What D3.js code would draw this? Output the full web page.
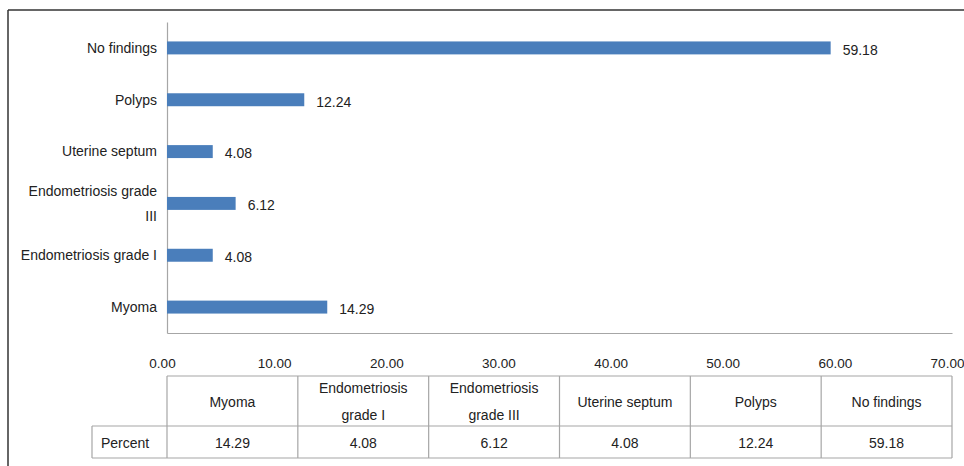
<!DOCTYPE html>
<html>
<head>
<meta charset="utf-8">
<script src="https://cdn.jsdelivr.net/npm/d3@7"></script>
<style>
  body { margin: 0; background: #fff; }
  text { font-family: "Liberation Sans", Arial, sans-serif; fill: #222; }
</style>
</head>
<body>
<svg id="chart" width="964" height="466"></svg>
<script>
var categories = ["Myoma", "Endometriosis grade I", "Endometriosis grade III", "Uterine septum", "Polyps", "No findings"];
var percent = [14.29, 4.08, 6.12, 4.08, 12.24, 59.18];
var xTicks = [0, 10, 20, 30, 40, 50, 60, 70];
var rowLabel = "Percent";

var data = categories.map(function(c, i){ return {cat: c, val: percent[i]}; });

var svg = d3.select("#chart");
var pLeft = 167, pRight = 952, pTop = 22, pBottom = 333;

// outer frame (left + top only)
svg.append("line")
  .attr("x1", 8).attr("y1", 10).attr("x2", 8).attr("y2", 466)
  .attr("stroke", "#333").attr("stroke-width", 1.5);
svg.append("line")
  .attr("x1", 8).attr("y1", 10).attr("x2", 964).attr("y2", 10)
  .attr("stroke", "#333").attr("stroke-width", 1.5);

var x = d3.scaleLinear().domain([0, 70]).range([pLeft, pRight]);
var y = d3.scaleBand().domain(categories.slice().reverse())
  .range([pTop, pBottom]).paddingInner(0.75).paddingOuter(0.375);

// wrap text into tspans by pixel width
function wrap(textSel, width, lineH) {
  textSel.each(function(){
    var t = d3.select(this);
    var words = t.text().split(" ");
    var xx = t.attr("x") || 0;
    t.text(null);
    var lines = [], line = [];
    var probe = t.append("tspan");
    words.forEach(function(w){
      line.push(w);
      probe.text(line.join(" "));
      if (probe.node().getComputedTextLength() > width && line.length > 1) {
        line.pop();
        lines.push(line.join(" "));
        line = [w];
      }
    });
    lines.push(line.join(" "));
    probe.remove();
    var y0 = t.attr("y") || 0;
    var dy0 = parseFloat(t.attr("dy") || 0);
    lines.forEach(function(l, i){
      t.append("tspan").attr("x", xx)
        .attr("y", y0)
        .attr("dy", (dy0 * 14 + (i - (lines.length - 1) / 2) * lineH) + "px")
        .text(l);
    });
    t.attr("dy", null);
  });
}

// left axis
var yAxis = svg.append("g")
  .attr("transform", "translate(" + pLeft + ",0)")
  .call(d3.axisLeft(y).tickSize(0).tickPadding(10));
yAxis.select(".domain").attr("stroke", "#a6a6a6").attr("stroke-width", 1.2);
yAxis.selectAll("text")
  .attr("font-size", "14px").attr("fill", "#222")
  .style("font-family", "'Liberation Sans', Arial, sans-serif")
  .attr("dy", "0.35")
  .call(wrap, 142, 25);

// bottom axis
var xAxis = svg.append("g")
  .attr("transform", "translate(0," + pBottom + ")")
  .call(d3.axisBottom(x).tickValues(xTicks).tickFormat(d3.format(".2f")).tickSize(0).tickPadding(25));
xAxis.select(".domain").attr("stroke", "#a6a6a6").attr("stroke-width", 1.2);
xAxis.selectAll("text")
  .attr("font-size", "13.5px").attr("fill", "#222").attr("x", -5)
  .style("font-family", "'Liberation Sans', Arial, sans-serif");

// bars
svg.selectAll("rect.bar").data(data).enter().append("rect")
  .attr("class", "bar")
  .attr("x", x(0))
  .attr("y", function(d){ return y(d.cat); })
  .attr("width", function(d){ return x(d.val) - x(0); })
  .attr("height", y.bandwidth())
  .attr("fill", "#4a7ebb");

// value labels
svg.selectAll("text.val").data(data).enter().append("text")
  .attr("class", "val")
  .attr("x", function(d){ return x(d.val) + 12; })
  .attr("y", function(d){ return y(d.cat) + y.bandwidth() / 2 + 2; })
  .attr("dy", "0.35em")
  .attr("font-size", "14px")
  .text(function(d){ return d.val.toFixed(2); });

// data table
var col = d3.scaleBand().domain(categories).range([pLeft, pRight]);
var tTop = 376, tMid = 426, tBot = 458, tLeft = 92;
var tbl = svg.append("g").attr("stroke", "#a6a6a6").attr("stroke-width", 1.2);
tbl.append("line").attr("x1", pLeft).attr("x2", pRight).attr("y1", tTop).attr("y2", tTop);
tbl.append("line").attr("x1", tLeft).attr("x2", pRight).attr("y1", tMid).attr("y2", tMid);
tbl.append("line").attr("x1", tLeft).attr("x2", pRight).attr("y1", tBot).attr("y2", tBot);
tbl.append("line").attr("x1", tLeft).attr("x2", tLeft).attr("y1", tMid).attr("y2", tBot);
tbl.selectAll("line.v").data(categories.concat(["end"])).enter().append("line")
  .attr("class", "v")
  .attr("x1", function(d, i){ return pLeft + i * col.step(); })
  .attr("x2", function(d, i){ return pLeft + i * col.step(); })
  .attr("y1", tTop).attr("y2", tBot);

svg.selectAll("text.hdr").data(data).enter().append("text")
  .attr("class", "hdr")
  .attr("x", function(d){ return col(d.cat) + col.bandwidth() / 2; })
  .attr("y", (tTop + tMid) / 2 + 1)
  .attr("dy", "0.35")
  .attr("text-anchor", "middle")
  .attr("font-size", "14px")
  .text(function(d){ return d.cat; })
  .call(wrap, 118, 27);

svg.selectAll("text.cell").data(data).enter().append("text")
  .attr("class", "cell")
  .attr("x", function(d){ return col(d.cat) + col.bandwidth() / 2; })
  .attr("y", (tMid + tBot) / 2 + 1)
  .attr("dy", "0.35em")
  .attr("text-anchor", "middle")
  .attr("font-size", "14px")
  .text(function(d){ return d.val.toFixed(2); });

svg.append("text")
  .attr("x", tLeft + 9)
  .attr("y", (tMid + tBot) / 2 + 1)
  .attr("dy", "0.35em")
  .attr("font-size", "14px")
  .text(rowLabel);
</script>
</body>
</html>
